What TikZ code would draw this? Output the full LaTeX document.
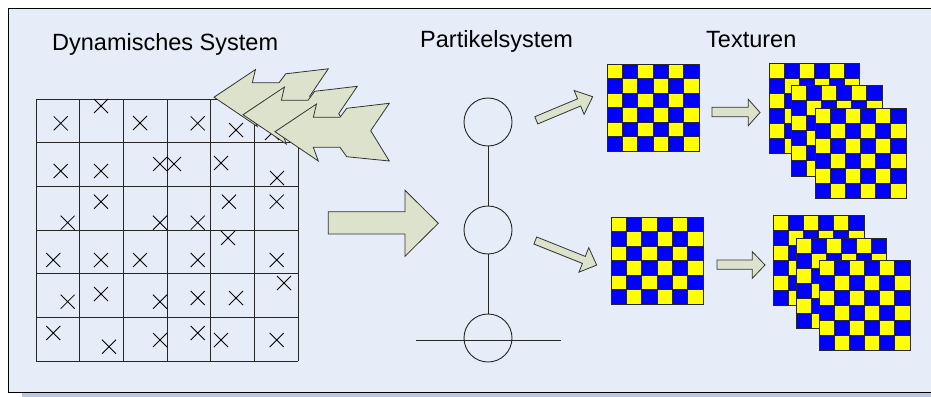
\documentclass[tikz,border=0pt]{standalone}
\usepackage{fontspec}
\setmainfont{Liberation Sans}
\definecolor{bgblue}{RGB}{230,236,248}
\definecolor{shadowblue}{RGB}{185,200,226}
\definecolor{arrfill}{RGB}{221,226,204}
\definecolor{chkyellow}{RGB}{255,255,0}
\definecolor{chkblue}{RGB}{0,0,255}
\newcommand\checkerboard[4]{%
  \foreach \i in {0,...,5}{%
    \foreach \j in {0,...,5}{%
      \pgfmathtruncatemacro\chkp{mod(\i+\j,2)}%
      \ifnum\chkp=0 \def\chkc{chkyellow}\else\def\chkc{chkblue}\fi
      \filldraw[chkcell, fill=\chkc] ({#1+\i*(#3-#1)/6},{#2+\j*(#4-#2)/6}) rectangle ({#1+(\i+1)*(#3-#1)/6},{#2+(\j+1)*(#4-#2)/6});
    }}%
  \draw[chkcell] (#1,#2) rectangle (#3,#4);
}
\def\wedgepath{(275,131.7) -- (316.5,104) -- (313.3,117.3) -- (340,117.3) -- (346.7,108.3) -- (389.3,103.3) -- (370.7,130.7) -- (389.3,161) -- (346.7,156.7) -- (340,147.3) -- (313.3,147.3) -- (318.3,161) -- cycle}
\begin{document}
\begin{tikzpicture}[x=1pt,y=-1pt,
  lbl/.style={font=\fontsize{23.5}{28}\selectfont, inner sep=0pt, anchor=base west},
  gridline/.style={draw=black!85, line width=1pt},
  crossline/.style={draw=black, line width=0.8pt},
  arrowshape/.style={fill=arrfill, draw=black!80, line width=0.8pt, line join=miter},
  chkcell/.style={draw=black!85, line width=0.7pt},
  pcircle/.style={circle, draw=black!85, line width=0.9pt, minimum size=48pt, inner sep=0pt},
  pline/.style={draw=black!85, line width=0.9pt}]
\useasboundingbox (0,0) rectangle (931,396);
\clip (0,0) rectangle (931,396);
% frame
\fill[shadowblue] (22,13) rectangle (960,400);
\filldraw[fill=bgblue, draw=black, line width=1pt] (8,9) rectangle (960,392);
% titles
\node[lbl] (t1) at (52,50.5) {Dynamisches System};
\node[lbl] (t2) at (420,48) {Partikelsystem};
\node[lbl] (t3) at (706,48) {Texturen};
% grid
\foreach \k in {0,...,6}{
  \draw[gridline] ({36+\k*43.667},99) -- ({36+\k*43.667},361);
  \draw[gridline] (36,{99+\k*43.667}) -- (298,{99+\k*43.667});
}
% crosses
\foreach \x/\y in {60.7/123.3, 101/106, 140/123, 197.7/123.3, 236/130, 272/133,
  60.7/171, 101/171, 160/164, 174/164, 221/163, 277/178,
  67.7/222.7, 101/201.7, 160/222.7, 197.7/222.7, 229/201.7, 276.7/201.7,
  53.3/260, 101/260, 140/260, 197.7/260, 228/238, 276.7/260,
  67.7/301.7, 101/294, 160/301.7, 197.7/298, 236/298, 284/283,
  53.3/333, 109/346.7, 160/340, 197.7/333, 221/340, 276.7/340}{
  \draw[crossline] ({\x-7},{\y-7}) -- ({\x+7},{\y+7}) ({\x-7},{\y+7}) -- ({\x+7},{\y-7});
}
% wedge arrows
\draw[arrowshape, shift={(-61,-34.5)}] \wedgepath;
\draw[arrowshape, shift={(-32,-17)}] \wedgepath;
\draw[arrowshape] \wedgepath;
% big arrow
\draw[arrowshape] (328.3,211.7) -- (405,211.7) -- (405,190.3) -- (438.3,223.3) -- (405,256.3) -- (405,234) -- (328.3,234) -- cycle;
% particle system
\node[pcircle] (c1) at (488,122) {};
\node[pcircle] (c2) at (488,230) {};
\node[pcircle] (c3) at (488,338) {};
\draw[pline] (c1) -- (c2);
\draw[pline] (c2) -- (c3);
\coordinate (hl) at (416,340);
\coordinate (hr) at (561,340);
\draw[pline] (hl) -- (hr);
% diagonal arrows
\draw[arrowshape, shift={(536.3,120.3)}, rotate=22.7] (0,-3.9) -- (46.4,-3.9) -- (46.4,-12.9) -- (61.1,0) -- (46.4,12.9) -- (46.4,3.9) -- (0,3.9) -- cycle;
\draw[arrowshape, shift={(535.3,240.5)}, rotate=-21.8] (0,-3.8) -- (52.3,-3.8) -- (52.3,-13.2) -- (66.1,0) -- (52.3,13.2) -- (52.3,3.8) -- (0,3.8) -- cycle;
% horizontal arrows
\draw[arrowshape] (712,107.3) -- (748.3,107.3) -- (748.3,99.3) -- (760,112.5) -- (748.3,125.7) -- (748.3,116.7) -- (712,116.7) -- cycle;
\draw[arrowshape] (717,260) -- (752.3,260) -- (752.3,251.7) -- (765,265) -- (752.3,278.3) -- (752.3,269.3) -- (717,269.3) -- cycle;
% textures
\checkerboard{607}{64}{699}{151}
\checkerboard{611}{217}{703}{304}
\checkerboard{769}{63}{859}{153}
\checkerboard{791}{85}{882}{176}
\checkerboard{815}{108}{906}{198}
\checkerboard{773}{215}{864}{305}
\checkerboard{796}{238}{886}{328}
\checkerboard{819}{260}{910}{350}
\end{tikzpicture}
\end{document}
